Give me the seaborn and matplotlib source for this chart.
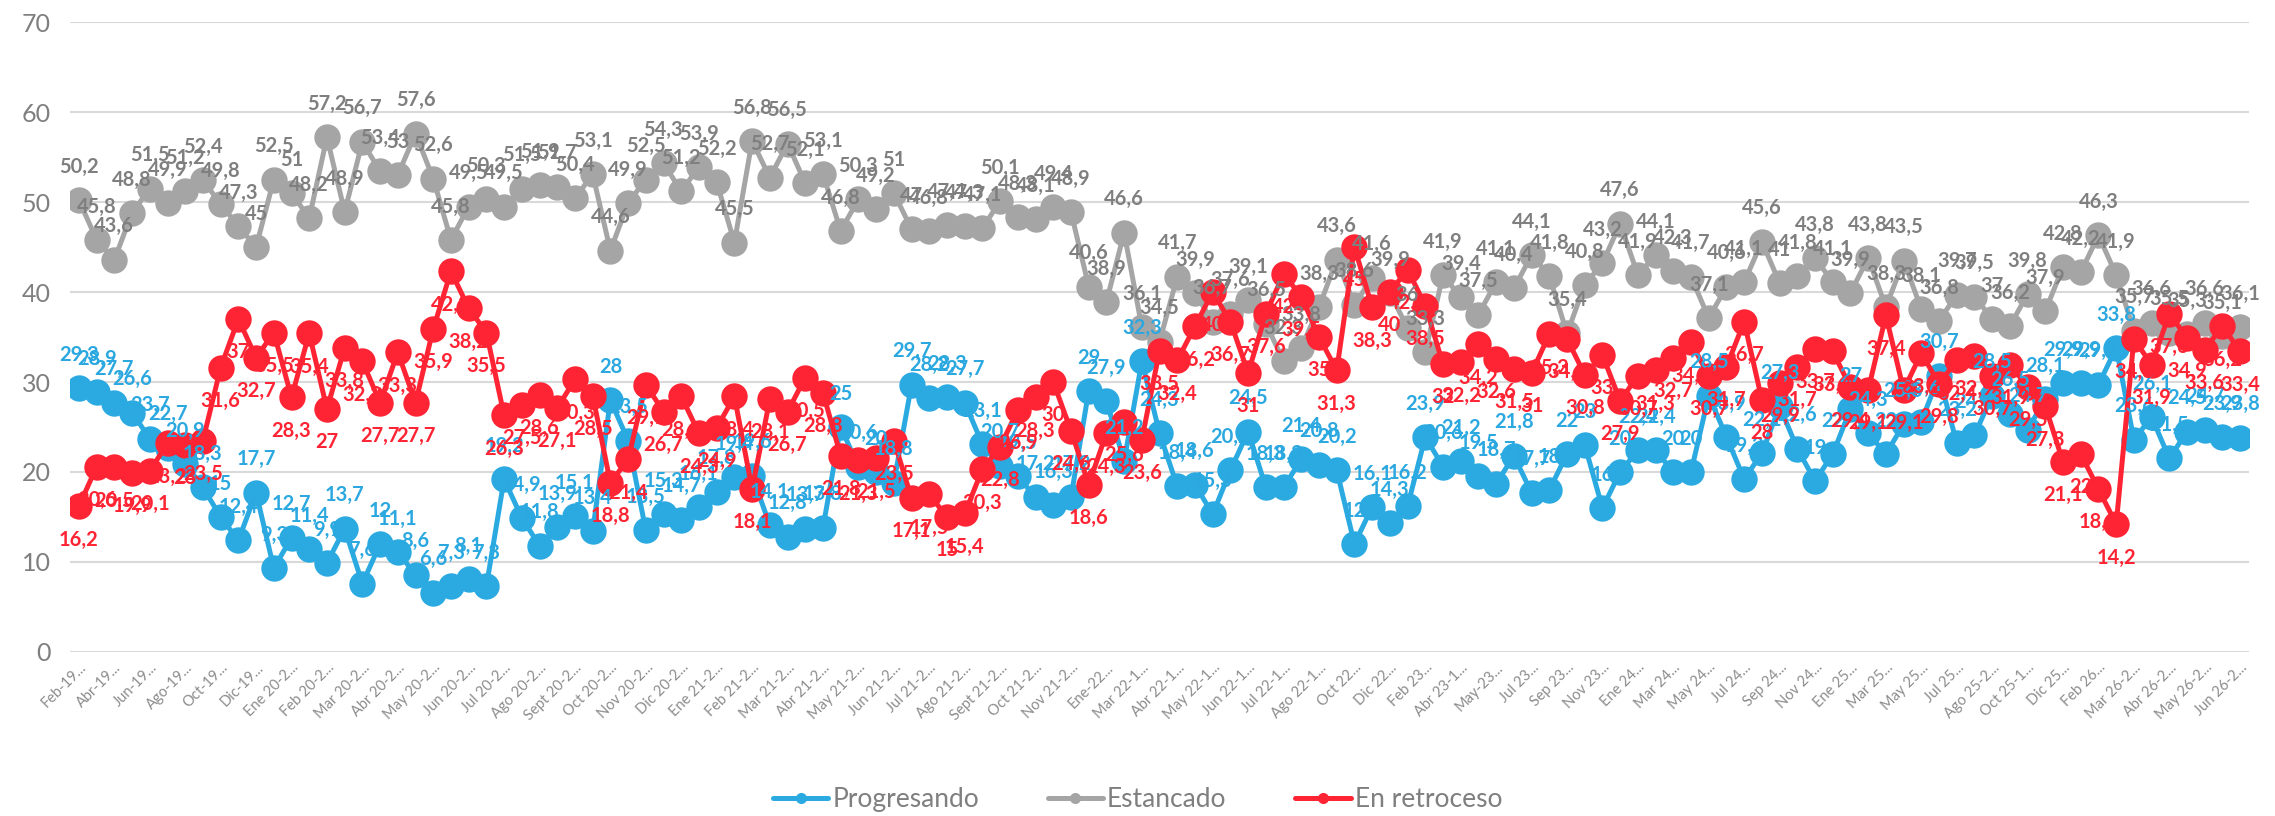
import seaborn as sns
import matplotlib.pyplot as plt
import pandas as pd
import numpy as np

# tick labels, one every second period
etiquetas = ['Feb-19...', 'Abr-19...', 'Jun-19...', 'Ago-19...', 'Oct-19...', 'Dic-19...',
             'Ene 20-2...', 'Feb 20-2...', 'Mar 20-2...', 'Abr 20-2...', 'May 20-2...', 'Jun 20-2...',
             'Jul 20-2...', 'Ago 20-2...', 'Sept 20-2...', 'Oct 20-2...', 'Nov 20-2...', 'Dic 20-2...',
             'Ene 21-2...', 'Feb 21-2...', 'Mar 21-2...', 'Abr 21-2...', 'May 21-2...', 'Jun 21-2...',
             'Jul 21-2...', 'Ago 21-2...', 'Sept 21-2...', 'Oct 21-2...', 'Nov 21-2...', 'Ene-22...',
             'Mar 22-1...', 'Abr 22-1...', 'May 22-1...', 'Jun 22-1...', 'Jul 22-1...', 'Ago 22-1...',
             'Oct 22...', 'Dic 22...', 'Feb 23...', 'Abr 23-1...', 'May-23...', 'Jul 23...',
             'Sep 23...', 'Nov 23...', 'Ene 24...', 'Mar 24...', 'May 24...', 'Jul 24...',
             'Sep 24...', 'Nov 24...', 'Ene 25...', 'Mar 25...', 'May 25...', 'Jul 25...',
             'Ago 25-2...', 'Oct 25-1...', 'Dic 25...', 'Feb 26...', 'Mar 26-2...', 'Abr 26-2...',
             'May 26-2...', 'Jun 26-2...']

progresando = [29.3, 28.9, 27.7, 26.6, 23.7, 22.7, 20.9, 18.3, 15, 12.4,
               17.7, 9.3, 12.7, 11.4, 9.9, 13.7, 7.6, 12, 11.1, 8.6,
               6.6, 7.3, 8.1, 7.3, 19.2, 14.9, 11.8, 13.9, 15.1, 13.4,
               28, 23.5, 13.5, 15.3, 14.7, 16.1, 17.8, 19.4, 19.6, 14.1,
               12.8, 13.7, 13.8, 25, 20.6, 20, 18.8, 29.7, 28.2, 28.3,
               27.7, 23.1, 20.7, 19.5, 17.2, 16.3, 17.2, 29, 27.9, 21.2,
               32.3, 24.3, 18.4, 18.6, 15.3, 20.2, 24.5, 18.3, 18.3, 21.4,
               20.8, 20.2, 12, 16.1, 14.3, 16.2, 23.9, 20.6, 21.2, 19.5,
               18.7, 21.8, 17.7, 18, 22, 23, 16, 20, 22.4, 22.4,
               20, 20, 28.5, 23.9, 19.2, 22.1, 27.3, 22.6, 19, 22,
               27, 24.3, 22, 25.3, 25.6, 30.7, 23.2, 24.1, 28.5, 26.5,
               24.7, 28.1, 29.9, 29.9, 29.7, 33.8, 23.6, 26.1, 21.5, 24.5,
               24.7, 23.9, 23.8]

estancado = [50.2, 45.8, 43.6, 48.8, 51.5, 49.9, 51.2, 52.4, 49.8, 47.3,
             45, 52.5, 51, 48.2, 57.2, 48.9, 56.7, 53.4, 53, 57.6,
             52.6, 45.8, 49.5, 50.3, 49.5, 51.5, 51.9, 51.7, 50.4, 53.1,
             44.6, 49.9, 52.5, 54.3, 51.2, 53.9, 52.2, 45.5, 56.8, 52.7,
             56.5, 52.1, 53.1, 46.8, 50.3, 49.2, 51, 47, 46.8, 47.4,
             47.3, 47.1, 50.1, 48.3, 48.1, 49.4, 48.9, 40.6, 38.9, 46.6,
             36.1, 34.5, 41.7, 39.9, 36.7, 37.6, 39.1, 36.5, 32.3, 33.8,
             38.3, 43.6, 38.6, 41.6, 39.9, 36, 33.3, 41.9, 39.4, 37.5,
             41.1, 40.4, 44.1, 41.8, 35.4, 40.8, 43.2, 47.6, 41.9, 44.1,
             42.3, 41.7, 37.1, 40.6, 41.1, 45.6, 41, 41.8, 43.8, 41.1,
             39.9, 43.8, 38.3, 43.5, 38.1, 36.8, 39.7, 39.5, 37, 36.2,
             39.8, 37.9, 42.8, 42.2, 46.3, 41.9, 35.7, 36.6, 35.5, 35.3,
             36.6, 35.1, 36.1]

retroceso = [16.2, 20.6, 20.5, 19.9, 20.1, 23.2, 23, 23.5, 31.6, 37,
             32.7, 35.5, 28.3, 35.4, 27, 33.8, 32.3, 27.7, 33.3, 27.7,
             35.9, 42.3, 38.2, 35.5, 26.3, 27.5, 28.6, 27.1, 30.3, 28.5,
             18.8, 21.4, 29.7, 26.7, 28.4, 24.3, 24.9, 28.4, 18.1, 28.1,
             26.7, 30.5, 28.8, 21.8, 21.3, 21.5, 23.5, 17.1, 17.5, 15,
             15.4, 20.3, 22.8, 26.9, 28.3, 30, 24.6, 18.6, 24.3, 25.6,
             23.6, 33.5, 32.4, 36.2, 40, 36.7, 31, 37.6, 42, 39.5,
             35, 31.3, 45, 38.3, 40, 42.5, 38.5, 32, 32.2, 34.2,
             32.6, 31.5, 31, 35.3, 34.8, 30.8, 33, 27.9, 30.7, 31.3,
             32.7, 34.4, 30.7, 31.7, 36.7, 28, 29.9, 31.7, 33.7, 33.4,
             29.4, 29.1, 37.4, 29.1, 33.2, 29.8, 32.4, 32.9, 30.7, 31.9,
             29.5, 27.3, 21.1, 22, 18.1, 14.2, 34.8, 31.9, 37.6, 34.9,
             33.6, 36.2, 33.4]

series = [('Progresando', progresando, '#2BAAE2', '#2BA8E0', 1),
          ('Estancado', estancado, '#A5A5A5', '#7F7F7F', 1),
          ('En retroceso', retroceso, '#FF2434', '#FF2434', -1)]

sns.set_style('white')
plt.rcParams['font.family'] = ['Lato', 'DejaVu Sans']

fig = plt.figure(figsize=(22.75, 8.16), dpi=100)
ax = fig.add_axes([0.0308, 0.201, 0.9578, 0.772])

for name, vals, col, tcol, side in series:
    df = pd.DataFrame({'pos': np.arange(len(vals)), 'valor': vals})
    sns.lineplot(data=df, x='pos', y='valor', ax=ax, color=col, linewidth=3.6,
                 marker='o', markersize=19, markeredgewidth=0, label=name)
    for p, v in zip(df['pos'], df['valor']):
        ax.annotate(f'{v:g}'.replace('.', ','), (p, v), xytext=(0, 24 * side),
                    textcoords='offset points', ha='center', va='center',
                    fontsize=14.5, fontweight='bold', color=tcol, zorder=10)

ax.set_xlim(-0.5, len(progresando) - 0.5)
ax.set_ylim(0, 70)
ax.set_yticks(range(0, 71, 10))
ax.set_xticks(np.arange(0, len(progresando), 2))
ax.set_xticklabels(etiquetas, rotation=45, ha='right', rotation_mode='anchor')
ax.tick_params(axis='x', labelsize=10.5, colors='#8C8C8C', length=0, pad=6)
ax.tick_params(axis='y', labelsize=18, colors='#7F7F7F', length=0, pad=14)
ax.set_xlabel('')
ax.set_ylabel('')
ax.yaxis.grid(True, color='#D9D9D9', linewidth=1.5)
ax.set_axisbelow(True)
sns.despine(ax=ax, left=True, bottom=True)

ax.get_legend().remove()
h, l = ax.get_legend_handles_labels()
leg = fig.legend(h, l, loc='center', bbox_to_anchor=(0.5, 0.02), ncol=3, frameon=False,
                 fontsize=19, markerscale=0.42, handlelength=2.1, columnspacing=2.6,
                 handletextpad=0.15)
for t in leg.get_texts():
    t.set_color('#7F7F7F')

fig.savefig('out.png', dpi=100)
